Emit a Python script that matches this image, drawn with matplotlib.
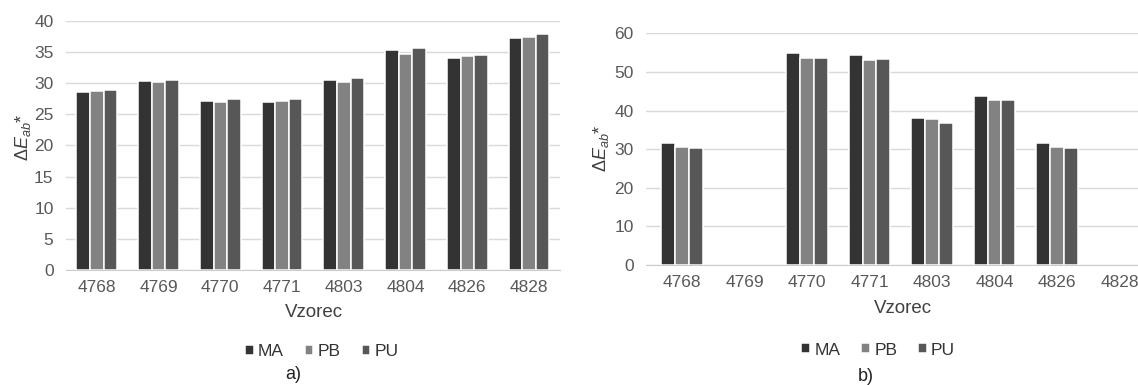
import numpy as np
import matplotlib
matplotlib.use("Agg")
import matplotlib.pyplot as plt

plt.rcParams['font.family'] = ['Liberation Sans', 'DejaVu Sans']
plt.rcParams['mathtext.fontset'] = 'custom'
plt.rcParams['mathtext.rm'] = 'Liberation Sans'
plt.rcParams['mathtext.it'] = 'Liberation Sans:italic'

samples = ["4768", "4769", "4770", "4771", "4803", "4804", "4826", "4828"]
series = ["MA", "PB", "PU"]
colors = ["#333333", "#828282", "#575757"]

# a) values
ma_a = [28.6, 30.3, 27.2, 27.0, 30.6, 35.4, 34.0, 37.3]
pb_a = [28.7, 30.15, 27.0, 27.2, 30.15, 34.7, 34.3, 37.4]
pu_a = [28.9, 30.6, 27.45, 27.4, 30.9, 35.6, 34.6, 37.9]

# b) values (4769 and 4828 missing)
ma_b = [31.5, np.nan, 54.8, 54.4, 38.1, 43.8, 31.5, np.nan]
pb_b = [30.5, np.nan, 53.5, 53.1, 37.7, 42.8, 30.5, np.nan]
pu_b = [30.4, np.nan, 53.6, 53.3, 36.8, 42.7, 30.3, np.nan]

fig = plt.figure(figsize=(11.38, 3.85), dpi=100)
axA = fig.add_axes([0.058, 0.2987, 0.434, 0.6468])
axB = fig.add_axes([0.5677, 0.3117, 0.4323, 0.6018])

ylab = r'$\mathit{Δ E}_{ab}$*'


def drawPanel(ax, data, ymax, ystep, xlim, lab_xy, leg_xy, ylab_xy):
    x = np.arange(len(samples))
    w = 0.22
    for i in range(len(series)):
        ax.bar(x + (i - 1) * w, data[i], w, color=colors[i], edgecolor='white',
               linewidth=1.1, label=series[i], zorder=3)
    ax.set_xlim(*xlim)
    ax.set_ylim(0, ymax)
    ax.set_yticks(np.arange(0, ymax + 1, ystep))
    ax.set_xticks(x)
    ax.set_xticklabels(samples)
    ax.yaxis.grid(True, color='#d9d9d9', linewidth=1.0, zorder=0)
    ax.set_axisbelow(True)
    for s in ['top', 'right', 'left']:
        ax.spines[s].set_visible(False)
    ax.spines['bottom'].set_color('#cccccc')
    ax.tick_params(axis='both', length=0, labelsize=12.5, labelcolor='#595959')
    ax.tick_params(axis='y', pad=9)
    ax.tick_params(axis='x', pad=7)
    ax.set_xlabel('Vzorec', fontsize=13.5, color='#404040', va='center')
    ax.xaxis.set_label_coords(*lab_xy)
    ax.set_ylabel(ylab, fontsize=13, color='#404040', va='center')
    ax.yaxis.set_label_coords(*ylab_xy)
    ax.legend(loc='center', bbox_to_anchor=leg_xy, ncol=3, frameon=False,
              fontsize=12.5, handlelength=0.5, handleheight=0.5,
              handletextpad=0.25, columnspacing=1.2, labelcolor='#333333')


drawPanel(axA, [ma_a, pb_a, pu_a], 40, 5, (-0.5, 7.5),
          (0.502, -0.169), (0.518, -0.329), (-0.088, 0.534))
drawPanel(axB, [ma_b, pb_b, pu_b], 60, 10, (-0.576, 7.296),
          (0.522, -0.186), (0.472, -0.367), (-0.092, 0.505))

fig.text(0.2575, 0.026, 'a)', fontsize=13, ha='center', va='center', color='#222222')
fig.text(0.761, 0.021, 'b)', fontsize=13, ha='center', va='center', color='#222222')

fig.savefig('out.png', dpi=100)
